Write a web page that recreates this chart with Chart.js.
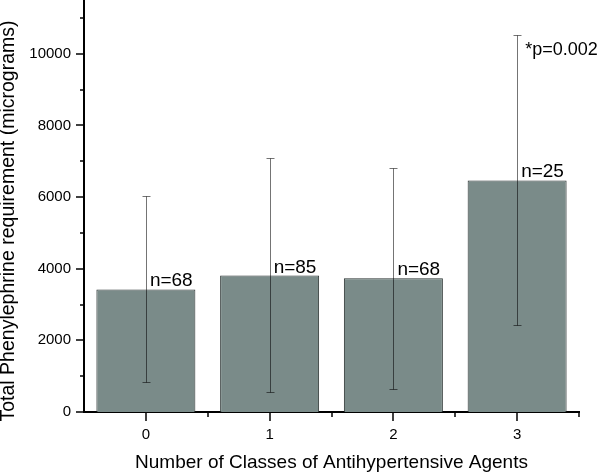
<!DOCTYPE html>
<html>
<head>
<meta charset="utf-8">
<script src="https://cdn.jsdelivr.net/npm/chart.js@4"></script>
<style>
  html, body { margin: 0; padding: 0; background: #fff; }
  #wrap { width: 600px; height: 473px; }
</style>
</head>
<body>
<div id="wrap"><canvas id="chart" width="600" height="473"></canvas></div>
<script>
const categories = ['0', '1', '2', '3'];
const means = [3420, 3810, 3730, 6465];
const upper = [6030, 7090, 6815, 10525];
const lower = [850, 555, 635, 2430];
const nLabels = ['n=68', 'n=85', 'n=68', 'n=25'];
const pLabel = '*p=0.002';
const yTicks = [0, 1000, 2000, 3000, 4000, 5000, 6000, 7000, 8000, 9000, 10000, 11000];
const yTitle = 'Total Phenylephrine requirement (micrograms)';

const FONT = 'Arial, "Liberation Sans", sans-serif';

// error bars, tick marks, y title and the text labels
const extras = {
    id: 'extras',
    afterDatasetsDraw(chart) {
        const ctx = chart.ctx;
        const x = chart.scales.x;
        const y = chart.scales.y;
        const meta = chart.getDatasetMeta(0);

        ctx.save();
        ctx.globalCompositeOperation = 'multiply';
        ctx.strokeStyle = '#747474';
        ctx.lineWidth = 1;
        meta.data.forEach((bar, i) => {
            const cx = Math.round(bar.x) + 0.5;
            const yt = Math.round(y.getPixelForValue(upper[i])) + 0.5;
            const yb = Math.round(y.getPixelForValue(lower[i])) + 0.5;
            ctx.beginPath();
            ctx.moveTo(cx, yt); ctx.lineTo(cx, yb);
            ctx.moveTo(cx - 4, yt); ctx.lineTo(cx + 4, yt);
            ctx.moveTo(cx - 4, yb); ctx.lineTo(cx + 4, yb);
            ctx.stroke();
        });
        ctx.restore();

        ctx.save();
        ctx.strokeStyle = '#000';
        ctx.lineWidth = 1.5;
        // y ticks
        const left = chart.chartArea.left;
        yTicks.forEach(v => {
            const py = Math.round(y.getPixelForValue(v));
            const len = v % 2000 === 0 ? 8 : 4;
            ctx.beginPath();
            ctx.moveTo(left, py); ctx.lineTo(left - len, py);
            ctx.stroke();
        });
        // x ticks: major at categories, minor between
        const bottom = chart.chartArea.bottom;
        for (let i = 0; i < categories.length; i++) {
            const px = Math.round(x.getPixelForValue(i));
            ctx.beginPath();
            ctx.moveTo(px, bottom); ctx.lineTo(px, bottom + 9);
            ctx.stroke();
            const mx = Math.round(x.getPixelForValue(i + 0.5));
            ctx.beginPath();
            ctx.moveTo(mx, bottom); ctx.lineTo(mx, bottom + 5);
            ctx.stroke();
        }
        ctx.restore();

        ctx.save();
        ctx.fillStyle = '#000';
        ctx.textAlign = 'left';
        ctx.textBaseline = 'alphabetic';
        ctx.font = '19px ' + FONT;
        meta.data.forEach((bar, i) => {
            ctx.fillText(nLabels[i], bar.x + 4, y.getPixelForValue(means[i]) - 3);
        });
        ctx.font = '18px ' + FONT;
        ctx.fillText(pLabel, meta.data[3].x + 8, y.getPixelForValue(upper[3]) + 20);

        // y axis title, sitting a bit lower than the plot centre like the original
        ctx.font = '19.5px ' + FONT;
        ctx.textAlign = 'center';
        ctx.textBaseline = 'middle';
        ctx.translate(9, 221);
        ctx.rotate(-Math.PI / 2);
        ctx.fillText(yTitle, 0, 0);
        ctx.restore();
    }
};

new Chart(document.getElementById('chart'), {
    type: 'bar',
    data: {
        labels: categories,
        datasets: [{
            data: means,
            backgroundColor: '#7a8b89',
            borderColor: '#2b3332',
            borderWidth: 1,
            borderSkipped: 'bottom',
            categoryPercentage: 1,
            barPercentage: 0.8
        }]
    },
    options: {
        responsive: false,
        animation: false,
        layout: { padding: { top: 0, right: 21, left: 0, bottom: 0 } },
        plugins: { legend: { display: false }, tooltip: { enabled: false } },
        scales: {
            x: {
                grid: { display: false, drawTicks: false },
                border: { display: true, color: '#000', width: 2 },
                ticks: { color: '#000', font: { family: FONT, size: 15 }, padding: 14 },
                title: {
                    display: true,
                    text: 'Number of Classes of Antihypertensive Agents',
                    color: '#000',
                    font: { family: FONT, size: 19, lineHeight: 1 },
                    padding: { top: 0, bottom: 0.5 }
                },
                afterFit(scale) { scale.height = 61; }
            },
            y: {
                min: 0,
                max: 11500,
                grid: { display: false, drawTicks: false },
                border: { display: true, color: '#000', width: 2 },
                ticks: {
                    autoSkip: false,
                    color: '#000',
                    font: { family: FONT, size: 15 },
                    padding: 13,
                    callback: v => (v % 2000 === 0 ? String(v) : '')
                },
                afterBuildTicks(scale) {
                    scale.ticks = yTicks.map(v => ({ value: v }));
                },
                afterFit(scale) {
                    scale.width = 84;
                    scale.paddingTop = 0;
                }
            }
        }
    },
    plugins: [extras]
});
</script>
</body>
</html>
